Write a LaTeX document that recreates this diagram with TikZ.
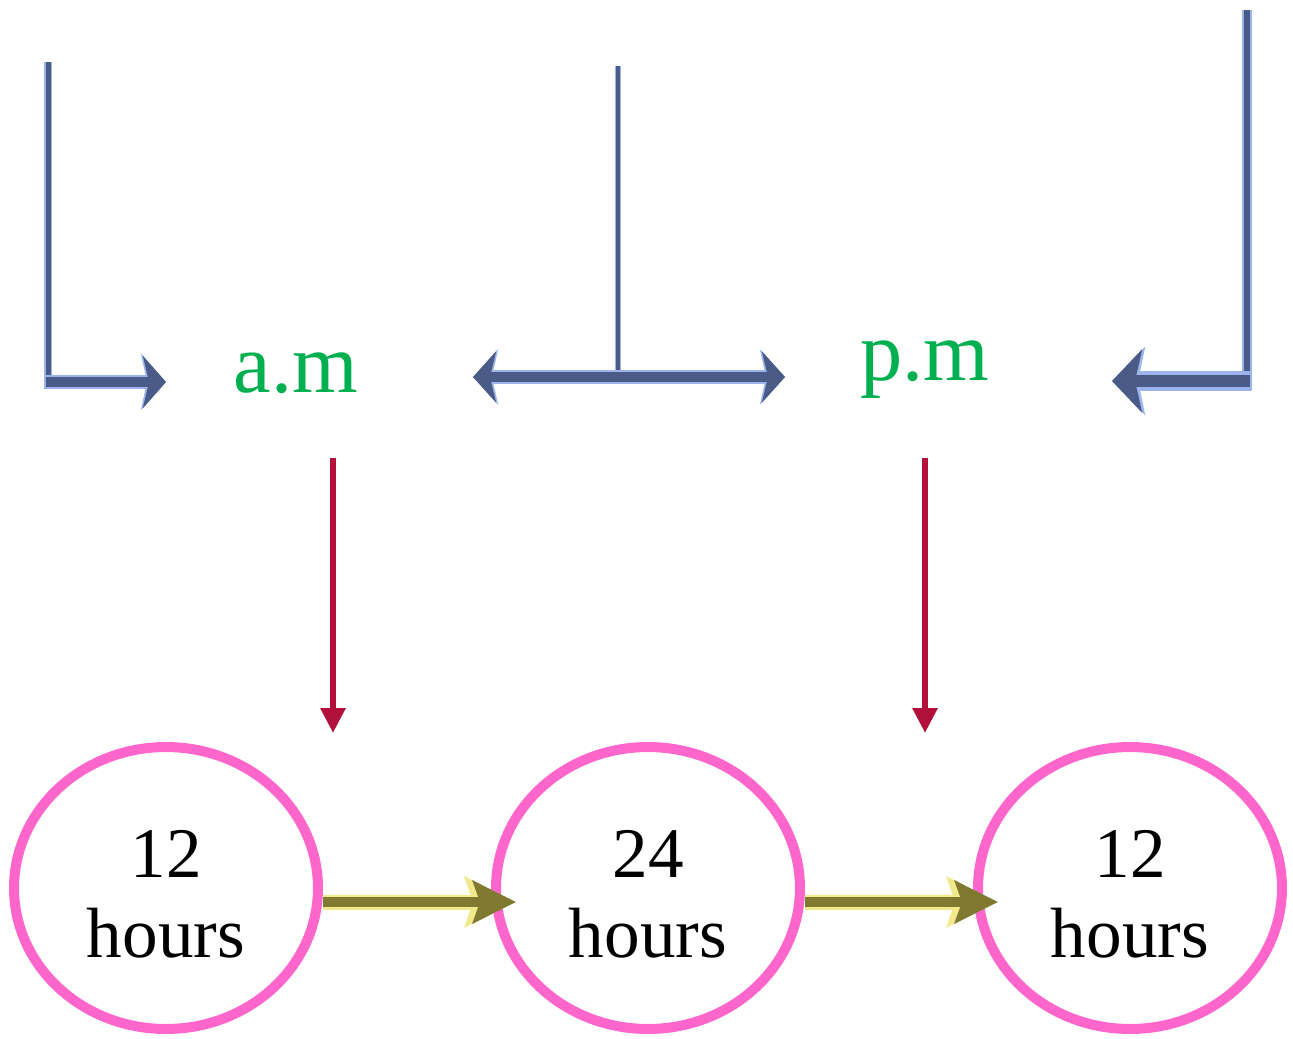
\documentclass[tikz,border=0pt]{standalone}
\usepackage{fontspec}
\setmainfont{Liberation Serif}
\usetikzlibrary{arrows.meta,shapes.geometric}
\definecolor{bluedark}{HTML}{4B5B88}
\definecolor{bluelight}{HTML}{9DB3EC}
\definecolor{amgreen}{HTML}{00B050}
\definecolor{darkred}{HTML}{B0103A}
\definecolor{pinkc}{HTML}{FF66CC}
\definecolor{olivec}{HTML}{7F7A30}
\definecolor{glowy}{HTML}{F2E88C}
\begin{document}
\begin{tikzpicture}[x=0.02cm,y=-0.02cm,
  lbl/.style={text=amgreen, font=\fontsize{48}{50}\selectfont, anchor=base, inner sep=0pt},
  hrs/.style={ellipse, draw=pinkc, line width=0.2cm, minimum width=6.08cm, minimum height=5.64cm,
    inner sep=0pt, align=center, font=\fontsize{40.5}{46}\selectfont},
  bglow/.style={draw=bluelight},
  bcore/.style={draw=bluedark},
  redarrow/.style={draw=darkred, line width=0.12cm, -{Triangle[length=0.5cm,width=0.48cm]}},
  oglow/.style={draw=glowy, line width=0.3cm, -{Stealth[length=0.96cm,width=1.0cm,inset=0.16cm]}, shorten >=-0.44cm},
  ocore/.style={draw=olivec, line width=0.2cm, -{Stealth[length=0.86cm,width=0.84cm,inset=0.14cm]}, shorten >=-0.5cm}
]
\useasboundingbox (0,0) rectangle (1293,1038);

% labels
\node[lbl] (am) at (296,392) {a.m};
\node[lbl] (pm) at (925,380) {p.m};

% circles
\node[hrs] (c1) at (166,888) {\rule{0pt}{34pt}12\\hours};
\node[hrs] (c2) at (648,888) {\rule{0pt}{34pt}24\\hours};
\node[hrs] (c3) at (1130,888) {\rule{0pt}{34pt}12\\hours};

% coordinates for brackets
\coordinate (lt) at (48,62);
\coordinate (lc) at (48,382);
\coordinate (lh) at (166,382);
\coordinate (mt) at (618,66);
\coordinate (mc) at (618,377);
\coordinate (ml) at (473,377);
\coordinate (mr) at (785,377);
\coordinate (rt) at (1247,10);
\coordinate (rc) at (1247,381);
\coordinate (rl) at (1112,381);
\coordinate (ra1) at (333,458);
\coordinate (ra2) at (333,733);
\coordinate (rb1) at (925,458);
\coordinate (rb2) at (925,733);

% left bracket
\draw[bglow, line width=0.16cm] (lt) -- ([yshift=-0.1cm]lc);
\draw[bcore, line width=0.1cm] (lt) -- ([yshift=-0.1cm]lc);
\draw[bglow, line width=0.28cm, -{Stealth[length=0.5cm,width=1.12cm,inset=0.12cm]}] ([xshift=-0.08cm]lc) -- (lh);
\draw[bcore, line width=0.2cm, -{Stealth[length=0.46cm,width=1.04cm,inset=0.12cm]}] ([xshift=-0.05cm]lc) -- (lh);

% middle
\draw[bglow, line width=0.12cm] (mt) -- (mc);
\draw[bcore, line width=0.08cm] (mt) -- (mc);
\draw[bglow, line width=0.27cm, {Stealth[length=0.5cm,width=1.1cm,inset=0.12cm]}-{Stealth[length=0.5cm,width=1.1cm,inset=0.12cm]}] (ml) -- (mr);
\draw[bcore, line width=0.2cm, {Stealth[length=0.46cm,width=1.02cm,inset=0.12cm]}-{Stealth[length=0.46cm,width=1.02cm,inset=0.12cm]}] (ml) -- (mr);

% right bracket
\draw[bglow, line width=0.2cm] (rt) -- ([yshift=-0.2cm]rc);
\draw[bcore, line width=0.12cm] (rt) -- ([yshift=-0.12cm]rc);
\draw[bglow, line width=0.4cm, -{Stealth[length=0.66cm,width=1.36cm,inset=0.14cm]}] ([xshift=0.1cm]rc) -- (rl);
\draw[bcore, line width=0.24cm, -{Stealth[length=0.6cm,width=1.26cm,inset=0.14cm]}] ([xshift=0.06cm]rc) -- (rl);

% red arrows
\draw[redarrow] (ra1) -- (ra2);
\draw[redarrow] (rb1) -- (rb2);

% olive arrows
\draw[oglow] ([yshift=-0.28cm]c1.east) -- ([yshift=-0.28cm]c2.west);
\draw[ocore] ([yshift=-0.28cm]c1.east) -- ([yshift=-0.28cm]c2.west);
\draw[oglow] ([yshift=-0.28cm]c2.east) -- ([yshift=-0.28cm]c3.west);
\draw[ocore] ([yshift=-0.28cm]c2.east) -- ([yshift=-0.28cm]c3.west);
\end{tikzpicture}
\end{document}
